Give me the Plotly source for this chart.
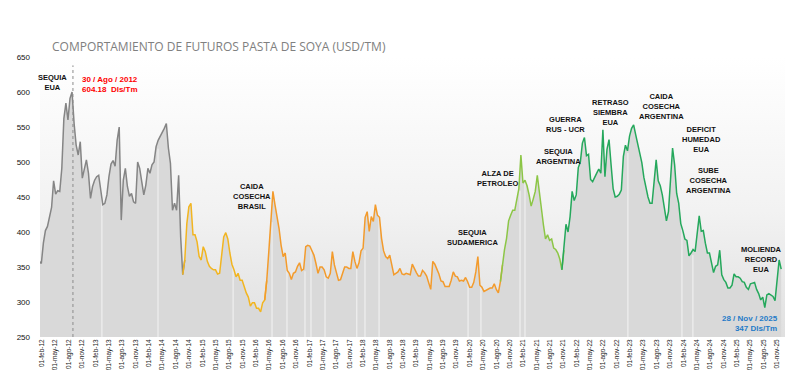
import pandas as pd
import plotly.graph_objects as go

# ---- data (USD/TM), sampled every 14 days starting 2012-01-13 ----
start_date = "2012-01-13"
step = "14D"

values_2012_2014 = [
    358, 355, 384, 402, 408, 424, 435, 473, 454, 459,
    458, 491, 562, 584, 560, 591, 600, 555, 524, 510,
    529, 477, 489, 503, 484, 448, 465, 474, 479, 481,
    460, 439, 441, 453, 479, 497, 502, 494, 531, 550,
    417, 474, 491, 465, 451, 455, 443, 441, 500, 491,
    472, 453, 467, 491, 484, 496, 500, 522, 531, 536,
    543, 548, 555, 520, 498, 431, 441, 431, 481, 393,
    339, 360, 412, 436,
]
values_2014_2017 = [
    441, 396, 396, 386, 365, 360, 379, 372, 358, 351,
    348, 346, 346, 340, 341, 372, 393, 399, 390, 370,
    354, 346, 336, 341, 331, 331, 320, 313, 307, 294,
    299, 299, 291, 291, 286, 299, 303, 331, 372, 417,
    458, 439, 424, 405, 381, 365, 370, 345, 341, 332,
    341, 343, 351, 356, 345, 347, 379, 381, 380, 372,
    367, 355, 341, 350, 350, 346, 336, 334, 341, 372,
    353, 342, 331,
]
values_2017_2020 = [
    332, 342, 350, 350, 348, 348, 372, 358, 348, 356,
    373, 377, 421, 429, 401, 422, 415, 439, 424, 421,
    391, 373, 365, 362, 367, 353, 339, 341, 343, 348,
    340, 339, 341, 340, 339, 354, 347, 342, 337, 337,
    345, 342, 337, 329, 318, 358, 354, 347, 340, 330,
    329, 322, 322, 322, 331, 343, 337, 336, 330, 331,
    330, 335, 329, 321, 321, 328, 343, 365, 324, 321,
    315, 317, 318, 320,
]
values_2020_2023 = [
    320, 326, 318, 313, 329, 353, 375, 391, 416, 424,
    431, 431, 447, 462, 510, 470, 474, 466, 453, 437,
    447, 458, 481, 455, 427, 410, 390, 396, 388, 390,
    377, 375, 370, 361, 346, 374, 411, 400, 422, 458,
    445, 453, 492, 500, 527, 535, 509, 511, 475, 472,
    479, 484, 490, 484, 546, 479, 518, 532, 496, 462,
    450, 451, 454, 460, 508, 524, 516, 537, 548, 553,
    539, 524, 510,
]
values_2023_2025 = [
    499, 478, 461, 450, 441, 441, 472, 503, 473, 466,
    453, 434, 416, 429, 477, 520, 496, 455, 441, 412,
    402, 390, 388, 366, 370, 375, 372, 403, 423, 401,
    402, 384, 370, 370, 356, 342, 351, 353, 374, 339,
    332, 328, 320, 320, 324, 340, 336, 336, 334, 329,
    328, 321, 318, 326, 327, 328, 318, 312, 303, 307,
    292, 310, 312, 310, 308, 302, 334, 360, 347,
]

# colour periods (start date of each coloured stretch)
period_starts = ["2012-01-13", "2014-09-19", "2016-04-01", "2020-08-28", "2021-10-22"]
period_colors = ["#858585", "#f2b520", "#f39b2c", "#8cc646", "#25a85c"]

# dates where the shaded area shows a thin white break (data gaps)
gap_dates = ["2013-03-16", "2014-04-03", "2015-08-29", "2016-05-21", "2016-08-31",
             "2017-01-01", "2017-02-11", "2017-05-18", "2017-12-21", "2018-02-15",
             "2018-05-22", "2020-01-20", "2020-04-17", "2021-01-09", "2021-02-12",
             "2023-01-16", "2024-01-20", "2024-04-04"]

x_tick_dates = pd.date_range("2012-02-01", "2025-11-01", freq="3MS")
month_es = {2: "feb", 5: "may", 8: "ago", 11: "nov"}
x_tick_text = [f"01-{month_es[d.month]}-{d.strftime('%y')}" for d in x_tick_dates]
y_ticks = [250, 300, 350, 400, 450, 500, 550, 600, 650]

peak_date, peak_value = "2012-08-30", 604.18
event_labels = [
    ("2012-04-09", 614, "SEQUIA<br>EUA"),
    ("2016-01-08", 451, "CAIDA<br>COSECHA<br>BRASIL"),
    ("2020-02-16", 392, "SEQUIA<br>SUDAMERICA"),
    ("2020-08-05", 477, "ALZA DE<br>PETROLEO"),
    ("2021-09-30", 508, "SEQUIA<br>ARGENTINA"),
    ("2021-11-14", 553, "GUERRA<br>RUS - UCR"),
    ("2022-09-20", 571, "RETRASO<br>SIEMBRA<br>EUA"),
    ("2023-09-01", 580, "CAIDA<br>COSECHA<br>ARGENTINA"),
    ("2024-05-31", 532, "DEFICIT<br>HUMEDAD<br>EUA"),
    ("2024-07-21", 474, "SUBE<br>COSECHA<br>ARGENTINA"),
    ("2025-07-14", 361, "MOLIENDA<br>RECORD<br>EUA"),
]
x_range = ["2012-01-18", "2025-12-24"]
y_range = [250, 650]

# ---- build ----
values = values_2012_2014 + values_2014_2017 + values_2017_2020 + values_2020_2023 + values_2023_2025
dates = pd.date_range(start_date, periods=len(values), freq=step)
s = pd.Series(values, index=dates)

fig = go.Figure()

# gradient background of plotting area
fig.add_trace(go.Scatter(
    x=x_range, y=[y_range[1], y_range[1]], mode="none", fill="tozeroy",
    fillgradient=dict(type="vertical",
                      colorscale=[[0, "#e0e0e0"], [0.45, "#f2f2f2"], [1, "#ffffff"]],
                      start=y_range[0], stop=y_range[1]),
    hoverinfo="skip", showlegend=False))

# grey area under the price
fig.add_trace(go.Scatter(
    x=dates, y=values, mode="none", fill="tozeroy", fillcolor="#d9d9d9",
    hoverinfo="skip", showlegend=False))

# thin white breaks in the shaded area
gx, gy = [], []
for d in gap_dates:
    v = s.asof(pd.Timestamp(d))
    gx += [d, d, None]
    gy += [y_range[0], v - 3, None]
fig.add_trace(go.Scatter(x=gx, y=gy, mode="lines", line=dict(color="#f4f4f4", width=1),
                         hoverinfo="skip", showlegend=False))

bounds = [pd.Timestamp(d) for d in period_starts] + [dates[-1] + pd.Timedelta(days=1)]
for i, col in enumerate(period_colors):
    seg = s[(s.index >= bounds[i]) & (s.index <= bounds[i + 1])]
    nxt = s[s.index > bounds[i + 1]]
    if len(nxt):
        seg = pd.concat([seg, nxt.iloc[:1]])
    fig.add_trace(go.Scatter(x=seg.index, y=seg.values, mode="lines",
                             line=dict(color=col, width=1.5), showlegend=False))

# dotted line at the 2012 peak
fig.add_shape(type="line", xref="x", yref="y", x0=peak_date, x1=peak_date,
              y0=y_range[0], y1=638, line=dict(color="#8c8c8c", width=1, dash="dot"))

for d, v, t in event_labels:
    fig.add_annotation(x=d, y=v, text=f"<b>{t}</b>", showarrow=False,
                       font=dict(family="Liberation Sans, Arial", size=7.5, color="#111111"),
                       align="center", xanchor="center", yanchor="middle")

fig.add_annotation(x="2012-10-17", y=611, text="<b>30 / Ago / 2012<br>604.18  Dls/Tm</b>",
                   showarrow=False, align="left", xanchor="left", yanchor="middle",
                   font=dict(family="Liberation Sans, Arial", size=8, color="#ff0000"))
fig.add_annotation(x="2025-11-17", y=268.6, text="<b>28 / Nov / 2025<br>347 Dls/Tm</b>",
                   showarrow=False, align="right", xanchor="right", yanchor="middle",
                   font=dict(family="Liberation Sans, Arial", size=8, color="#1f7bc8"))

# page body has an 8px margin: figure is sized/offset to compensate
fig.update_layout(
    width=792, height=372,
    margin=dict(l=32, r=15, t=49, b=43),
    paper_bgcolor="white", plot_bgcolor="white",
    title=dict(text="COMPORTAMIENTO DE FUTUROS PASTA DE SOYA (USD/TM)",
               x=44 / 792, xanchor="left", y=1 - 39 / 372, yanchor="middle",
               font=dict(family="Open Sans", size=12, color="#808080")),
    showlegend=False,
)
fig.update_xaxes(range=x_range, showgrid=False, zeroline=False, showline=False,
                 automargin=False,
                 tickmode="array", tickvals=x_tick_dates, ticktext=x_tick_text,
                 tickangle=-90, ticks="",
                 tickfont=dict(family="Liberation Sans, Arial", size=6.5, color="#222222"))
fig.update_yaxes(range=y_range, showgrid=False, zeroline=False, showline=False,
                 automargin=False,
                 tickmode="array", tickvals=y_ticks, ticks="", ticklabelstandoff=9,
                 tickfont=dict(family="Liberation Sans, Arial", size=8, color="#111111"),
                 tickprefix="<b>", ticksuffix="</b>")

fig.write_html("out.html")
